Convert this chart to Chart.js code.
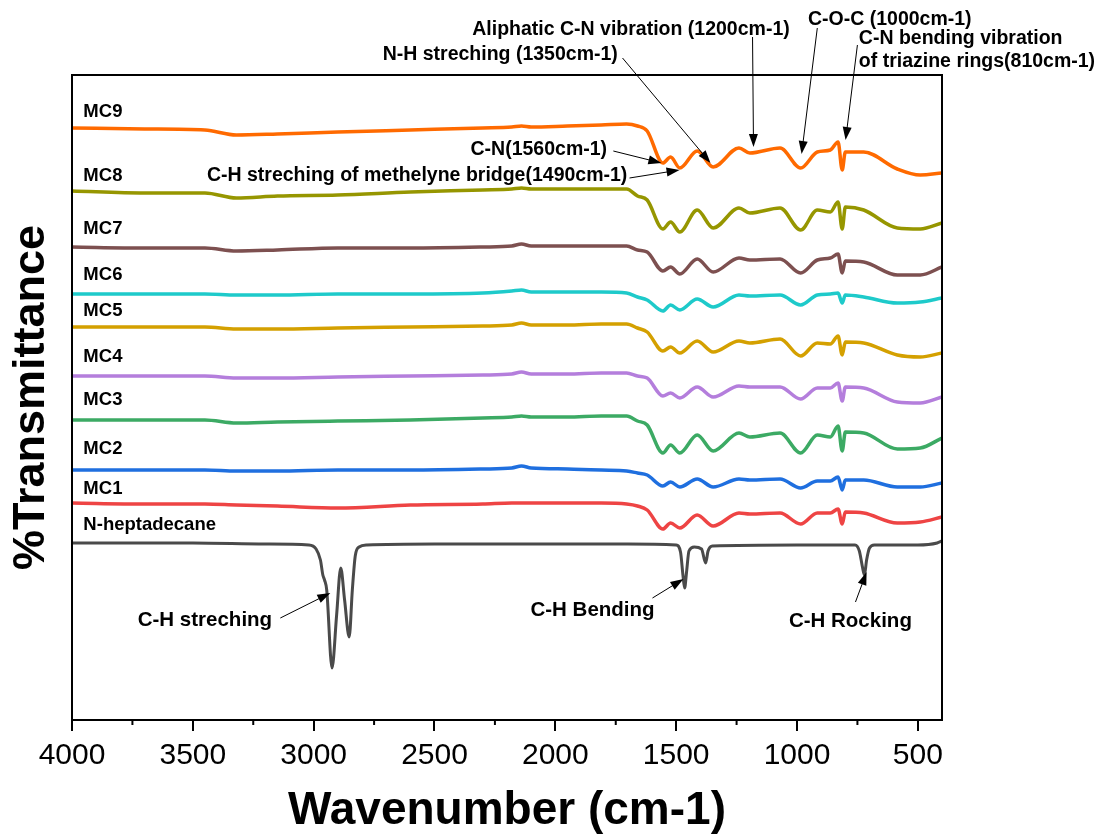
<!DOCTYPE html>
<html>
<head>
<meta charset="utf-8">
<script src="https://cdn.jsdelivr.net/npm/chart.js@4"></script>
<style>
  html, body { margin: 0; padding: 0; background: #fff; }
  canvas { display: block; }
</style>
</head>
<body>
<canvas id="ftir" width="1110" height="839"></canvas>
<script>
// wavenumber grid shared by the microcapsule spectra (cm-1)
const wavenumbers = [4000, 3700, 3450, 3320, 3150, 2900, 2600, 2300, 2180, 2140, 2100, 1950, 1810, 1705, 1660, 1620,
  1555, 1523, 1485, 1413, 1347, 1240, 1195, 1070, 985, 916, 862, 830, 813, 800, 724, 585, 490, 400];

// transmittance, arbitrary offset units (stacked)
const mc9 = [592, 591, 590, 585, 586, 588, 590, 592, 593, 594, 593, 594, 595, 596, 594, 589,
  557, 563, 552, 569, 553, 572, 567, 572, 552, 568, 570, 578, 550, 568, 568, 551, 545, 547];
const mc8 = [529, 527, 527, 522, 524, 525, 528, 530, 531, 532, 531, 531, 531, 531, 524, 520,
  491, 498, 488, 510, 492, 512, 507, 512, 490, 510, 508, 518, 491, 513, 510, 492, 491, 497];
const mc7 = [473, 472, 472, 469, 470, 472, 472, 473, 474, 476, 474, 474, 474, 474, 470, 468,
  449, 453, 446, 461, 448, 462, 460, 461, 447, 460, 462, 466, 447, 459, 458, 445, 445, 453];
const mc6 = [426, 426, 426, 425, 425, 426, 426, 427, 429, 430, 428, 428, 428, 427, 423, 420,
  409, 415, 410, 421, 413, 425, 424, 425, 415, 425, 426, 427, 417, 425, 423, 417, 418, 422];
const mc5 = [393, 393, 393, 391, 391, 392, 393, 394, 395, 397, 395, 395, 396, 396, 392, 388,
  369, 373, 367, 379, 368, 379, 377, 381, 364, 377, 376, 384, 365, 378, 377, 365, 363, 367];
const mc4 = [344, 344, 344, 342, 342, 343, 344, 345, 346, 348, 346, 346, 347, 347, 344, 342,
  324, 327, 322, 333, 323, 334, 333, 333, 321, 332, 332, 337, 319, 333, 332, 318, 317, 323];
const mc3 = [300, 300, 300, 297, 298, 299, 300, 302, 303, 304, 303, 303, 304, 304, 299, 295,
  267, 275, 267, 285, 269, 287, 283, 287, 267, 285, 283, 294, 269, 288, 287, 271, 272, 282];
const mc2 = [250, 250, 250, 249, 249, 250, 250, 251, 252, 254, 252, 251, 250, 249, 247, 245,
  234, 238, 233, 241, 233, 241, 240, 241, 232, 239, 239, 243, 230, 240, 240, 233, 233, 237];
const mc1 = [217, 216, 216, 215, 214, 212, 215, 216, 217, 217, 217, 217, 217, 216, 214, 210,
  191, 197, 192, 205, 194, 207, 206, 207, 196, 207, 207, 211, 196, 208, 207, 197, 198, 203];

const heptadecaneWavenumbers = [4000, 3500, 3200, 3020, 2990, 2972, 2962, 2955, 2946, 2924, 2905, 2888, 2872, 2853,
  2840, 2828, 2812, 2780, 2500, 2000, 1700, 1500, 1482, 1472, 1465, 1457, 1447, 1425, 1395, 1378, 1368, 1350,
  1000, 760, 742, 730, 721, 712, 700, 680, 500, 420, 400];
const heptadecane = [177, 177, 176, 175, 171, 160, 145, 140, 130, 52, 105, 152, 120, 83,
  130, 164, 173, 175, 176, 176, 176, 175, 168, 145, 132, 148, 169, 173, 171, 157, 169, 174,
  175, 175, 169, 154, 145, 160, 172, 175, 175, 177, 179];

const seriesNames = ['MC9', 'MC8', 'MC7', 'MC6', 'MC5', 'MC4', 'MC3', 'MC2', 'MC1', 'N-heptadecane'];
const seriesColors = ['#ff6a00', '#969600', '#7d5050', '#1ecaca', '#d4a000', '#b47edc', '#3caa64', '#1f6fdf', '#ee4444', '#4a4a4a'];
const labelLevels = [608, 544, 491, 445, 409, 363, 320, 271, 231, 195];
const labelWavenumber = 3953;

const xTicks = [4000, 3500, 3000, 2500, 2000, 1500, 1000, 500];
const minorTicks = [3750, 3250, 2750, 2250, 1750, 1250, 750];

// peak labels: text anchor and arrow (wavenumber, level)
const annotations = [
  { lines: ['Aliphatic C-N vibration (1200cm-1)'], at: [1687, 690], align: 'center', size: 19.5, arrow: [1184, 683, 1180, 573] },
  { lines: ['N-H streching (1350cm-1)'], at: [2228, 665], align: 'center', size: 19.5, arrow: [1722, 662, 1358, 557] },
  { lines: ['C-O-C (1000cm-1)'], at: [616, 700], align: 'center', size: 19.5, arrow: [916, 692, 981, 566] },
  { lines: ['C-N bending vibration', 'of triazine rings(810cm-1)'], at: [744, 681], align: 'left', size: 19.5, arrow: [750, 675, 799, 580] },
  { lines: ['C-N(1560cm-1)'], at: [1786, 570], align: 'right', size: 19.5, arrow: [1760, 569, 1561, 557] },
  { lines: ['C-H streching of methelyne bridge(1490cm-1)'], at: [1702, 544], align: 'right', size: 19.5, arrow: [1693, 542, 1486, 550] },
  { lines: ['C-H streching'], at: [3450, 100], align: 'center', size: 20.5, arrow: [3138, 102, 2931, 127] },
  { lines: ['C-H Bending'], at: [1846, 110], align: 'center', size: 20.5, arrow: [1598, 122, 1470, 141] },
  { lines: ['C-H Rocking'], at: [779, 99], align: 'center', size: 20.5, arrow: [758, 118, 712, 148] }
];

const FONT = '"Liberation Sans", Arial, sans-serif';
const toPoints = (xs, ys) => xs.map((x, i) => ({ x: x, y: ys[i] }));
const spectra = [mc9, mc8, mc7, mc6, mc5, mc4, mc3, mc2, mc1];

const datasets = spectra.map((ys, i) => ({
  label: seriesNames[i],
  data: toPoints(wavenumbers, ys),
  borderColor: seriesColors[i],
  borderWidth: 3.5,
  pointRadius: 0,
  cubicInterpolationMode: 'monotone',
  fill: false
}));
datasets.push({
  label: seriesNames[9],
  data: toPoints(heptadecaneWavenumbers, heptadecane),
  borderColor: seriesColors[9],
  borderWidth: 3,
  pointRadius: 0,
  cubicInterpolationMode: 'monotone',
  fill: false
});

function drawArrow(ctx, x0, y0, x1, y1) {
  const ang = Math.atan2(y1 - y0, x1 - x0);
  const len = 13, half = 4.5;
  ctx.beginPath();
  ctx.moveTo(x0, y0);
  ctx.lineTo(x1 - Math.cos(ang) * len * 0.8, y1 - Math.sin(ang) * len * 0.8);
  ctx.stroke();
  ctx.beginPath();
  ctx.moveTo(x1, y1);
  ctx.lineTo(x1 - Math.cos(ang) * len + Math.sin(ang) * half, y1 - Math.sin(ang) * len - Math.cos(ang) * half);
  ctx.lineTo(x1 - Math.cos(ang) * len - Math.sin(ang) * half, y1 - Math.sin(ang) * len + Math.cos(ang) * half);
  ctx.closePath();
  ctx.fill();
}

const decorations = {
  id: 'decorations',
  afterDraw(chart) {
    const { ctx, chartArea: a, scales: { x, y } } = chart;
    ctx.save();
    ctx.strokeStyle = '#000';
    ctx.fillStyle = '#000';
    ctx.lineWidth = 2;
    minorTicks.forEach(v => {
      const px = x.getPixelForValue(v);
      ctx.beginPath();
      ctx.moveTo(px, a.bottom);
      ctx.lineTo(px, a.bottom + 5);
      ctx.stroke();
    });
    ctx.strokeRect(a.left, a.top, a.right - a.left, a.bottom - a.top);

    ctx.font = 'bold 18.5px ' + FONT;
    ctx.textBaseline = 'middle';
    ctx.textAlign = 'left';
    seriesNames.forEach((n, i) => {
      ctx.fillText(n, x.getPixelForValue(labelWavenumber), y.getPixelForValue(labelLevels[i]));
    });

    ctx.lineWidth = 1;
    annotations.forEach(an => {
      ctx.font = 'bold ' + an.size + 'px ' + FONT;
      ctx.textAlign = an.align;
      const tx = x.getPixelForValue(an.at[0]);
      const ty = y.getPixelForValue(an.at[1]);
      an.lines.forEach((t, k) => ctx.fillText(t, tx, ty + k * 23));
      const [w0, v0, w1, v1] = an.arrow;
      drawArrow(ctx, x.getPixelForValue(w0), y.getPixelForValue(v0), x.getPixelForValue(w1), y.getPixelForValue(v1));
    });
    ctx.restore();
  }
};

new Chart(document.getElementById('ftir'), {
  type: 'line',
  data: { datasets: datasets },
  options: {
    responsive: false,
    animation: false,
    events: [],
    layout: { padding: { left: 0, right: 168, top: 75, bottom: 0 } },
    plugins: { legend: { display: false }, tooltip: { enabled: false } },
    scales: {
      x: {
        type: 'linear',
        reverse: true,
        min: 400,
        max: 4000,
        afterBuildTicks: s => { s.ticks = xTicks.map(v => ({ value: v })); },
        afterFit: s => { s.height = 119; },
        grid: { drawOnChartArea: false, drawTicks: true, tickLength: 11, color: '#000', lineWidth: 2 },
        border: { display: false },
        ticks: { color: '#000', font: { family: FONT, size: 30 }, padding: 7, maxRotation: 0, autoSkip: false, callback: v => String(v) },
        title: { display: true, text: 'Wavenumber (cm-1)', color: '#000', font: { family: FONT, size: 46, weight: 'bold' }, padding: { top: 0, bottom: 0 } }
      },
      y: {
        min: 0,
        max: 645,
        afterFit: s => { s.width = 72; },
        grid: { display: false },
        border: { display: false },
        ticks: { display: false },
        title: { display: true, text: '%Transmittance', color: '#000', font: { family: FONT, size: 45, weight: 'bold' }, padding: { top: 5, bottom: 0 } }
      }
    }
  },
  plugins: [decorations]
});
</script>
</body>
</html>
